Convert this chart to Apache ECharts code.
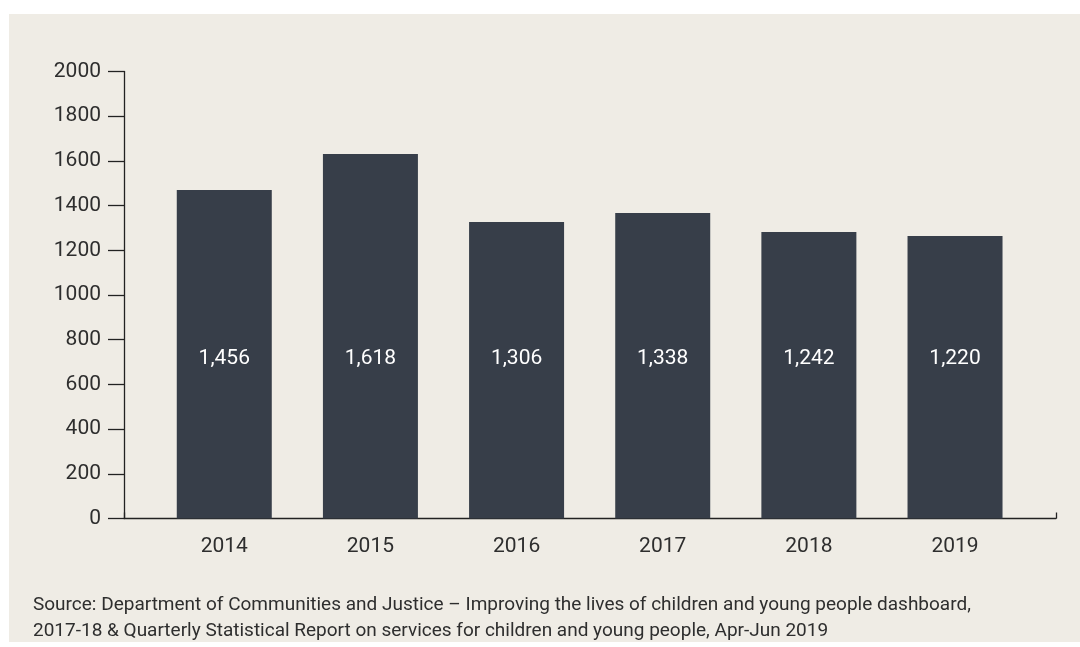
<!DOCTYPE html>
<html>
<head>
<meta charset="utf-8">
<script src="https://cdn.jsdelivr.net/npm/echarts@6/dist/echarts.min.js"></script>
<style>
  html, body { margin: 0; padding: 0; background: #ffffff; }
  #bg { position: absolute; left: 9px; top: 14px; width: 1071px; height: 628px; background: #efece5; }
  #chart { position: absolute; left: 0; top: 0; width: 1080px; height: 647px; }
</style>
</head>
<body>
<div id="bg"></div>
<div id="chart"></div>
<script>
const categories = ['2014', '2015', '2016', '2017', '2018', '2019'];
// Bar heights as drawn in the picture
const barValues = [1470, 1631, 1327, 1367, 1282, 1264];
// Printed labels on bars
const barLabels = ['1,456', '1,618', '1,306', '1,338', '1,242', '1,220'];
const yTicks = [0, 200, 400, 600, 800, 1000, 1200, 1400, 1600, 1800, 2000];
const sourceLines = [
  'Source: Department of Communities and Justice \u2013 Improving the lives of children and young people dashboard,',
  '2017-18 & Quarterly Statistical Report on services for children and young people, Apr-Jun 2019'
];

const FONT = 'Roboto, "Noto Sans", sans-serif';
const TXT = '#2e2e2e';
const chart = echarts.init(document.getElementById('chart'), null, { renderer: 'canvas' });

const yMin = yTicks[0], yMax = yTicks[yTicks.length - 1];

chart.setOption({
  backgroundColor: 'transparent',
  animation: false,
  title: {
    text: sourceLines.join('\n'),
    left: 33, top: 592, padding: 0,
    textStyle: { fontFamily: FONT, fontSize: 19, fontWeight: 'normal', color: TXT, lineHeight: 26 }
  },
  grid: [
    { left: 124, right: 24, top: 71.5, bottom: 128.5 },
    { left: 151.2, right: 51.9, top: 71.5, bottom: 128.5 }
  ],
  xAxis: [
    {
      gridIndex: 0, type: 'category', data: [''], boundaryGap: true,
      axisLine: { show: true, lineStyle: { color: '#222', width: 1.3 } },
      axisTick: { show: true, inside: true, length: 6, lineStyle: { color: '#222', width: 1.3 } },
      axisLabel: { show: false }, splitLine: { show: false }
    },
    {
      gridIndex: 1, type: 'category', data: categories,
      axisLine: { show: false }, axisTick: { show: false },
      axisLabel: { fontFamily: FONT, fontSize: 21, color: TXT, margin: 18 },
      splitLine: { show: false }
    }
  ],
  yAxis: [
    {
      gridIndex: 0, type: 'value', min: yMin, max: yMax, interval: yTicks[1] - yTicks[0],
      axisLine: { show: true, lineStyle: { color: '#222', width: 1.3 } },
      axisTick: { show: true, length: 16, lineStyle: { color: '#222', width: 1.3 } },
      axisLabel: { fontFamily: FONT, fontSize: 21, color: TXT, margin: 23, formatter: v => String(v) },
      splitLine: { show: false }
    },
    {
      gridIndex: 1, type: 'value', min: yMin, max: yMax, show: false
    }
  ],
  series: [{
    type: 'bar',
    xAxisIndex: 1, yAxisIndex: 1,
    data: barValues,
    barWidth: 95,
    itemStyle: { color: '#373e49' },
    label: {
      show: true,
      position: 'insideBottom',
      distance: 149,
      formatter: p => barLabels[p.dataIndex],
      fontFamily: FONT, fontSize: 21, color: '#ffffff'
    }
  }]
});
</script>
</body>
</html>
